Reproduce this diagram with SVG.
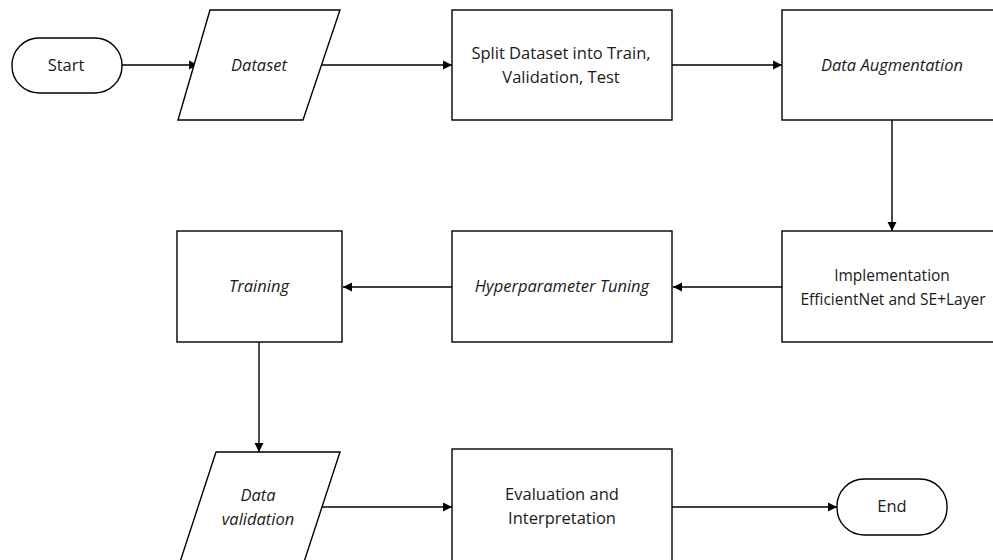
<svg xmlns="http://www.w3.org/2000/svg" width="993" height="560" viewBox="0 0 993 560">
<defs>
<marker id="arr" markerWidth="10" markerHeight="10" refX="9" refY="5" orient="auto" markerUnits="userSpaceOnUse">
<path d="M0,0.5 L9,5 L0,9.5 Z" fill="#000"/>
</marker>
<style>
.s{fill:#fff;stroke:#000;stroke-width:1.4}
.t{font-family:"Open Sans","Liberation Sans",sans-serif;font-size:16.5px;fill:#1a1a1a;text-anchor:middle}
.i{font-style:italic}
.n{font-size:15.5px}
.c{fill:none;stroke:#000;stroke-width:1.4;marker-end:url(#arr)}
</style>
</defs>
<rect width="993" height="560" fill="#fff"/>
<g id="connectors">
<line class="c" x1="122" y1="65" x2="198" y2="65"/>
<line class="c" x1="322" y1="65" x2="452" y2="65"/>
<line class="c" x1="672" y1="65" x2="782" y2="65"/>
<line class="c" x1="892" y1="120" x2="892" y2="231"/>
<line class="c" x1="782" y1="287" x2="673" y2="287"/>
<line class="c" x1="452" y1="287" x2="343" y2="287"/>
<line class="c" x1="259" y1="342" x2="259" y2="452"/>
<line class="c" x1="322" y1="507" x2="452" y2="507"/>
<line class="c" x1="672" y1="507" x2="837" y2="507"/>
</g>
<g id="start">
<rect class="s" x="12" y="38" width="110" height="55" rx="27" ry="27"/>
<text class="t" x="66" y="71">Start</text>
</g>
<g id="dataset">
<polygon class="s" points="210,10 340,10 303,120 178,120"/>
<text class="t i" x="259" y="71">Dataset</text>
</g>
<g id="split">
<rect class="s" x="452" y="10" width="220" height="110"/>
<text class="t" x="561" y="59">Split Dataset into Train,</text>
<text class="t" x="561" y="83">Validation, Test</text>
</g>
<g id="augmentation">
<rect class="s" x="782" y="10" width="222" height="110"/>
<text class="t i" x="892" y="71">Data Augmentation</text>
</g>
<g id="implementation">
<rect class="s" x="782" y="231" width="222" height="111"/>
<text class="t n" x="892" y="281">Implementation</text>
<text class="t n" x="893" y="305">EfficientNet and SE+Layer</text>
</g>
<g id="hyperparameter">
<rect class="s" x="452" y="231" width="220" height="111"/>
<text class="t i" x="562" y="292">Hyperparameter Tuning</text>
</g>
<g id="training">
<rect class="s" x="177" y="231" width="165" height="111"/>
<text class="t i" x="259" y="292">Training</text>
</g>
<g id="datavalidation">
<polygon class="s" points="216,452 340,452 304,562 180,562"/>
<text class="t i" x="258" y="501">Data</text>
<text class="t i" x="258" y="525">validation</text>
</g>
<g id="evaluation">
<rect class="s" x="452" y="449" width="220" height="120"/>
<text class="t" x="562" y="500">Evaluation and</text>
<text class="t" x="562" y="524">Interpretation</text>
</g>
<g id="end">
<rect class="s" x="837" y="479" width="110" height="56" rx="27" ry="27"/>
<text class="t" x="892" y="512">End</text>
</g>
</svg>
